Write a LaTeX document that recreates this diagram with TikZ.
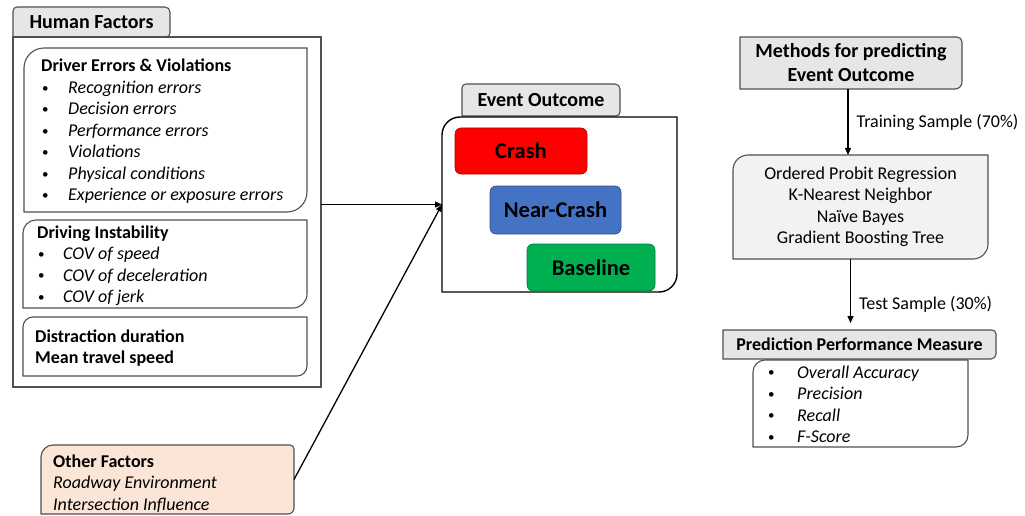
\documentclass[tikz,border=0pt]{standalone}
\usepackage{fontspec}
\setmainfont{Carlito}
\usetikzlibrary{arrows.meta,calc,fit}

\definecolor{tabgray}{HTML}{E7E6E6}
\definecolor{panelgray}{HTML}{F2F2F2}
\definecolor{peach}{HTML}{FBE5D6}
\definecolor{edgegray}{HTML}{505050}
\definecolor{crashred}{HTML}{FF0000}
\definecolor{nearblue}{HTML}{4472C4}
\definecolor{basegreen}{HTML}{00B050}

% Outline of a named rectangular node with its own radius at each corner:
% #1 node, #2 top left, #3 top right, #4 bottom right, #5 bottom left, #6 path options
\newcommand\cornerbox[6]{%
  \path[#6] ($(#1.north west)+(0,#2)$) arc[start angle=180,end angle=270,radius=#2]
    -- ($(#1.north east)+(-#3,0)$) arc[start angle=270,end angle=360,radius=#3]
    -- ($(#1.south east)+(0,-#4)$) arc[start angle=0,end angle=90,radius=#4]
    -- ($(#1.south west)+(#5,0)$) arc[start angle=90,end angle=180,radius=#5]
    -- cycle;}
% small list bullet in a box of the given width
\newcommand\bul[1]{\makebox[#1][l]{\hspace{1pt}\raisebox{1.2pt}{\fontsize{13}{13}\selectfont\textbullet}}}

\tikzset{
  region/.style={inner sep=0pt, outer sep=0pt},
  outline/.style={draw=edgegray, line width=1.1pt},
  conn/.style={line width=1.3pt, -{Triangle[length=7pt,width=6pt]}},
  body/.style={inner sep=0pt, anchor=base west, font=\fontsize{18}{21.5}\selectfont},
  title/.style={font=\fontsize{20}{24}\selectfont\bfseries},
  outcome/.style={font=\fontsize{22.5}{27}\selectfont\bfseries},
  plain/.style={font=\fontsize{18}{21.5}\selectfont},
  edgelabel/.style={inner sep=0pt, font=\fontsize{18}{21.5}\selectfont},
}

\begin{document}
\begin{tikzpicture}[x=1pt,y=-1pt]
\useasboundingbox (0,0) rectangle (1025,516);

% ---------- Human factors ----------
\node[region, fit={(13,7) (170,37)}, title] (hftab) {};
\node[region, fit={(13,37) (321,387)}] (hf) {};
\node[region, fit={(24,48) (307,212)}] (dev) {};
\node[region, fit={(23,220) (307,308)}] (di) {};
\node[region, fit={(23,317) (307,376)}] (dd) {};

\cornerbox{hftab}{4}{5}{4}{0.01}{fill=tabgray, outline}
\draw[outline] (hf.north west) rectangle (hf.south east);
\cornerbox{dev}{20}{0.01}{20}{0.01}{outline}
\cornerbox{di}{13}{0.01}{14}{0.01}{outline}
\cornerbox{dd}{10}{0.01}{10}{0.01}{outline}
\node[title, inner sep=0pt] (hftitle) at (hftab.center) {Human Factors};

\node[body] (devtxt) at (41,72) {\begin{tabular}[t]{@{}l@{}}
  \bfseries Driver Errors \& Violations\\
  \bul{27pt}\textit{Recognition errors}\\
  \bul{27pt}\textit{Decision errors}\\
  \bul{27pt}\textit{Performance errors}\\
  \bul{27pt}\textit{Violations}\\
  \bul{27pt}\textit{Physical conditions}\\
  \bul{27pt}\textit{Experience or exposure errors}
\end{tabular}};

\node[body] (ditxt) at (37,238) {\begin{tabular}[t]{@{}l@{}}
  \bfseries Driving Instability\\
  \bul{26pt}\textit{COV of speed}\\
  \bul{26pt}\textit{COV of deceleration}\\
  \bul{26pt}\textit{COV of jerk}
\end{tabular}};

\node[body] (ddtxt) at (35,342) {\begin{tabular}[t]{@{}l@{}}
  \bfseries Distraction duration\\
  \bfseries Mean travel speed
\end{tabular}};

% ---------- Other factors ----------
\node[region, fit={(41,445) (294,514)}] (of) {};
\cornerbox{of}{12}{4}{6}{0.01}{fill=peach, outline}
\node[body] (oftxt) at (53,467) {\begin{tabular}[t]{@{}l@{}}
  \bfseries Other Factors\\
  \textit{Roadway Environment}\\
  \textit{Intersection Influence}
\end{tabular}};

% ---------- Event outcome ----------
\node[region, fit={(462,84) (620,116)}] (eotab) {};
\node[region, fit={(442,117) (677,292)}] (eo) {};
\cornerbox{eotab}{4}{5}{4}{0.01}{fill=tabgray, outline}
\cornerbox{eo}{18}{0.01}{18}{0.01}{draw=black, line width=1.4pt}
\node[title, inner sep=0pt] (eotitle) at (eotab.center) {Event Outcome};

\node[region, fit={(455,128) (587,174)}] (crash) {};
\node[region, fit={(490,186) (621,234)}] (near) {};
\node[region, fit={(527,244) (655,291)}] (base) {};
\cornerbox{crash}{6}{6}{6}{6}{fill=crashred, draw=crashred!70!black, line width=0.6pt}
\cornerbox{near}{6}{6}{6}{6}{fill=nearblue, draw=nearblue!70!black, line width=0.6pt}
\cornerbox{base}{6}{6}{6}{6}{fill=basegreen, draw=basegreen!70!black, line width=0.6pt}
\node[outcome, inner sep=0pt] (crashtxt) at (crash.center) {Crash};
\node[outcome, inner sep=0pt] (neartxt) at (near.center) {Near-Crash};
\node[outcome, inner sep=0pt] (basetxt) at (base.center) {Baseline};

% ---------- Prediction methods ----------
\node[region, fit={(740,37) (962,89)}] (meth) {};
\node[region, fit={(733,155) (988,259)}] (alg) {};
\node[region, fit={(723,330) (996,359)}] (ppm) {};
\node[region, fit={(753,360) (968,447)}] (pl) {};
\cornerbox{meth}{0.01}{5}{7}{0.01}{fill=tabgray, outline}
\cornerbox{alg}{15}{0.01}{15}{0.01}{fill=panelgray, outline}
\cornerbox{ppm}{0.01}{4}{5}{0.01}{fill=tabgray, outline}
\cornerbox{pl}{12}{0.01}{12}{0.01}{outline}

\node[title, align=center, inner sep=0pt] (methtxt) at (meth.center) {Methods for predicting\\Event Outcome};
\node[plain, align=center, inner sep=0pt] (algtxt) at (alg.center) {Ordered Probit Regression\\K-Nearest Neighbor\\Naïve Bayes\\Gradient Boosting Tree};
\node[plain, inner sep=0pt] (ppmtxt) at (ppm.center) {\bfseries Prediction Performance Measure};
\node[body] (pltxt) at (767,378) {\begin{tabular}[t]{@{}l@{}}
  \bul{30pt}\textit{Overall Accuracy}\\
  \bul{30pt}\textit{Precision}\\
  \bul{30pt}\textit{Recall}\\
  \bul{30pt}\textit{F-Score}
\end{tabular}};

% ---------- Connectors ----------
\draw[conn] (hf.east |- eo.west) -- (eo.west);
\draw[conn] (of.east) -- (eo.west);
\draw[conn] ($(meth.south)+(-3,0)$) coordinate (m1)
  -- node[edgelabel, anchor=west, xshift=8pt] (trainlbl) {Training Sample (70\%)} (m1 |- alg.north);
\draw[conn, shorten >=7pt] ($(alg.south)+(-10,0)$) coordinate (a1)
  -- node[edgelabel, anchor=west, xshift=8pt, pos=0.64] (testlbl) {Test Sample (30\%)} (a1 |- ppm.north);
\end{tikzpicture}
\end{document}
